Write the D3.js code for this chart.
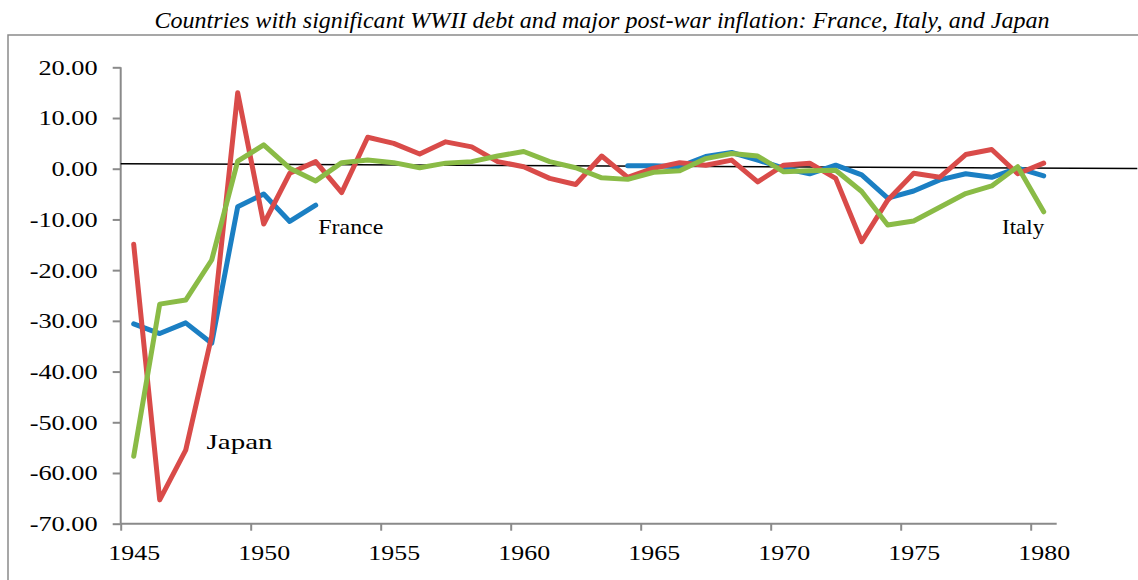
<!DOCTYPE html>
<html>
<head>
<meta charset="utf-8">
<script src="https://cdn.jsdelivr.net/npm/d3@7"></script>
<style>
  body { margin: 0; background: #fff; }
  svg { display: block; font-family: "Liberation Serif", "Times New Roman", serif; }
  .axis path, .axis line { stroke: #8a8a8a; stroke-width: 2; }
  .axis text { fill: #000; font-size: 21.6px; font-family: "Liberation Serif", serif; }
</style>
</head>
<body>
<svg id="chart" width="1138" height="580"></svg>
<script>
const years = d3.range(1945, 1981);

// France: gap 1953-1963
const france = [-30.6, -32.5, -30.4, -34.4, -7.5, -5.0, -10.4, -7.2,
    null, null, null, null, null, null, null, null, null, null, null,
    0.6, 0.6, 0.4, 2.4, 3.2, 1.7, 0.1, -1.0, 0.7, -1.2, -5.8, -4.4, -2.2, -1.0, -1.7, 0.1, -1.4];

const japan = [-14.9, -65.3, -55.5, -33.0, 15.0, -10.9, -0.9, 1.4, -4.7, 6.2,
    5.0, 2.9, 5.3, 4.3, 1.4, 0.4, -1.9, -3.1, 2.5, -1.7,
    0.1, 1.2, 0.7, 1.7, -2.6, 0.7, 1.1, -1.9, -14.4, -6.2,
    -0.9, -1.7, 2.8, 3.8, -1.0, 1.1];

const italy = [-56.7, -26.7, -25.9, -18.0, 1.5, 4.7, 0.1, -2.4, 1.2, 1.7,
    1.2, 0.2, 1.1, 1.4, 2.5, 3.4, 1.4, 0.2, -1.8, -2.1,
    -0.7, -0.4, 2.0, 3.0, 2.5, -0.6, -0.4, -0.3, -4.5, -11.1,
    -10.3, -7.6, -4.9, -3.4, 0.4, -8.5];

const yTicks = [20, 10, 0, -10, -20, -30, -40, -50, -60, -70];
const xLabelYears = [1945, 1950, 1955, 1960, 1965, 1970, 1975, 1980];

// thin reference line drawn across the plot
const refLine = [{year: 1944.5, value: 1.0}, {year: 1983.6, value: 0.05}];

const seriesList = [
    {name: "France", values: france, color: "#1b7fc3"},
    {name: "Japan", values: japan, color: "#d94b49"},
    {name: "Italy", values: italy, color: "#8abb46"}
];

const labels = [
    {text: "France", year: 1952.1, value: -12.9, width: 65},
    {text: "Japan", year: 1947.8, value: -55.3, width: 66},
    {text: "Italy", year: 1978.4, value: -12.9, width: 42}
];

const title = "Countries with significant WWII debt and major post-war inflation: France, Italy, and Japan";

const svg = d3.select("#chart");

// outer frame
svg.append("rect")
    .attr("x", 8).attr("y", 35)
    .attr("width", 1200).attr("height", 600)
    .attr("fill", "none")
    .attr("stroke", "#8a8a8a")
    .attr("stroke-width", 1.5);

svg.append("text")
    .attr("x", 602).attr("y", 28)
    .attr("text-anchor", "middle")
    .attr("font-style", "italic")
    .attr("font-size", 23)
    .attr("textLength", 895)
    .attr("lengthAdjust", "spacingAndGlyphs")
    .text(title);

const band = 26;
const x = d3.scaleLinear()
    .domain([1945, 1946])
    .range([133.7, 133.7 + band]);

const y = d3.scaleLinear()
    .domain([20, -70])
    .range([67.3, 523.7]);

// stretch text horizontally to match the wide serif look of the original
function stretch(sel, k) {
    sel.each(function () {
        const len = this.getComputedTextLength();
        d3.select(this)
            .attr("textLength", len * k)
            .attr("lengthAdjust", "spacingAndGlyphs");
    });
}

//y axis
const yAxis = svg.append("g")
    .attr("class", "axis")
    .attr("transform", `translate(${x(1944.5)},0)`)
    .call(d3.axisLeft(y)
        .tickValues(yTicks)
        .tickSize(8)
        .tickPadding(15)
        .tickFormat(d => d.toFixed(2)));
yAxis.select(".domain").attr("d", `M0,${y(20)}V${y(-70)}`);
yAxis.selectAll("text").call(stretch, 1.22);

//x axis: ticks on category boundaries, labels in category centres
const xAxis = svg.append("g")
    .attr("class", "axis")
    .attr("transform", `translate(0,${y(-70)})`)
    .call(d3.axisBottom(x)
        .tickValues(xLabelYears.map(d => d - 0.5))
        .tickSize(7)
        .tickPadding(14)
        .tickFormat(d => d + 0.5));
xAxis.select(".domain").attr("d", `M${x(1944.5)},0H${x(1980.5)}`);
xAxis.selectAll("text")
    .attr("dx", band / 2)
    .call(stretch, 1.2);

const line = d3.line()
    .defined(d => d.value != null)
    .x(d => x(d.year))
    .y(d => y(d.value));

svg.append("path")
    .datum(refLine)
    .attr("fill", "none")
    .attr("stroke", "#000")
    .attr("stroke-width", 1.5)
    .attr("d", line);

svg.append("g")
    .selectAll("path")
    .data(seriesList)
    .join("path")
        .attr("fill", "none")
        .attr("stroke", d => d.color)
        .attr("stroke-width", 5)
        .attr("stroke-linejoin", "round")
        .attr("stroke-linecap", "round")
        .attr("d", d => line(years.map((yr, i) => ({year: yr, value: d.values[i]}))));

svg.append("g")
    .selectAll("text")
    .data(labels)
    .join("text")
        .attr("x", d => x(d.year))
        .attr("y", d => y(d.value))
        .attr("font-size", 21)
        .attr("textLength", d => d.width)
        .attr("lengthAdjust", "spacingAndGlyphs")
        .text(d => d.text);
</script>
</body>
</html>
